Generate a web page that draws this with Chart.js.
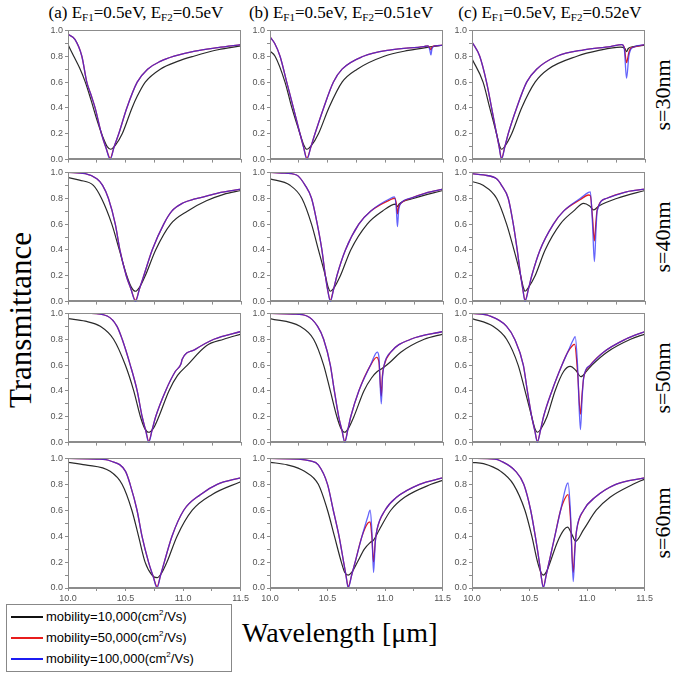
<!DOCTYPE html>
<html><head><meta charset="utf-8">
<script src="https://cdn.jsdelivr.net/npm/chart.js@4.4.1/dist/chart.umd.min.js"></script>
<style>
body{margin:0;width:682px;height:678px;background:#fff;position:relative;overflow:hidden;font-family:'Liberation Serif','Times New Roman',serif;color:#000;}
canvas{position:absolute;}
.title{position:absolute;top:3px;font-size:17px;white-space:nowrap;transform:translateX(-50%);}
.title sub{font-size:11px;vertical-align:-3px;line-height:0;}
.rot{position:absolute;white-space:nowrap;transform:translate(-50%,-50%) rotate(-90deg);}
#legend{position:absolute;left:6px;top:604px;width:226px;height:68px;border:1px solid #888;box-sizing:border-box;font-family:'Liberation Sans',Arial,sans-serif;font-size:13px;}
#legend .row{position:absolute;left:4px;height:20px;line-height:20px;white-space:nowrap;}
#legend .sw{display:inline-block;width:32px;height:2px;vertical-align:middle;margin-right:3px;position:relative;top:-1px;}
#legend sup{font-size:8px;vertical-align:6px;line-height:0;}
#xlab{position:absolute;left:242px;top:617px;font-size:28px;white-space:nowrap;}
</style>
</head><body>
<div class="title" style="left:136px">(a) E<sub>F1</sub>=0.5eV, E<sub>F2</sub>=0.5eV</div>
<div class="title" style="left:341px">(b) E<sub>F1</sub>=0.5eV, E<sub>F2</sub>=0.51eV</div>
<div class="title" style="left:550px">(c) E<sub>F1</sub>=0.5eV, E<sub>F2</sub>=0.52eV</div>
<div class="rot" style="left:21px;top:320px;font-size:31px;">Transmittance</div>
<div class="rot" style="left:663px;top:95px;font-size:22px;">s=30nm</div>
<div class="rot" style="left:663px;top:237px;font-size:22px;">s=40nm</div>
<div class="rot" style="left:663px;top:378px;font-size:22px;">s=50nm</div>
<div class="rot" style="left:663px;top:523px;font-size:22px;">s=60nm</div>
<div id="xlab">Wavelength [μm]</div>
<div id="legend">
 <div class="row" style="top:2px"><span class="sw" style="background:#111"></span>mobility=10,000(cm<sup>2</sup>/Vs)</div>
 <div class="row" style="top:23px"><span class="sw" style="background:#e81c1c"></span>mobility=50,000(cm<sup>2</sup>/Vs)</div>
 <div class="row" style="top:44px"><span class="sw" style="background:#1c1cf2"></span>mobility=100,000(cm<sup>2</sup>/Vs)</div>
</div>
<script>
// ---- data: [wavelength (um), transmittance] ----
const xTicks = [10.0, 10.5, 11.0, 11.5];
const yTicks = [0.0, 0.2, 0.4, 0.6, 0.8, 1.0];
const rowLabels = ['s=30nm','s=40nm','s=50nm','s=60nm'];

// (a) EF2=0.5eV
const A1_black=[[10.0,0.89],[10.05,0.8],[10.1,0.71],[10.15,0.6],[10.2,0.46],[10.25,0.31],[10.3,0.18],[10.34,0.1],[10.37,0.08],[10.41,0.11],[10.47,0.2],[10.555,0.4],[10.6,0.49],[10.67,0.6],[10.8,0.7],[10.95,0.76],[11.09,0.8],[11.3,0.85],[11.5,0.88]];
const A1_red=[[10.0,0.97],[10.06,0.93],[10.12,0.8],[10.163,0.6],[10.2,0.5],[10.235,0.4],[10.29,0.2],[10.33,0.09],[10.366,0.01],[10.4,0.1],[10.44,0.2],[10.51,0.4],[10.6,0.6],[10.69,0.7],[10.8,0.76],[10.92,0.8],[11.1,0.84],[11.3,0.867],[11.5,0.89]];
const A1_blue=[[10.0,0.97],[10.06,0.93],[10.12,0.8],[10.163,0.6],[10.2,0.5],[10.235,0.4],[10.29,0.2],[10.33,0.09],[10.366,0.0],[10.4,0.1],[10.44,0.2],[10.51,0.4],[10.6,0.6],[10.69,0.7],[10.8,0.76],[10.92,0.8],[11.1,0.84],[11.3,0.867],[11.5,0.89]];
const A2_black=[[10.0,0.96],[10.1,0.94],[10.22,0.9],[10.29,0.8],[10.38,0.6],[10.445,0.4],[10.51,0.2],[10.55,0.11],[10.585,0.08],[10.62,0.11],[10.67,0.2],[10.76,0.4],[10.89,0.6],[11.035,0.7],[11.2,0.78],[11.35,0.83],[11.5,0.86]];
const A2_red=[[10.0,1.0],[10.15,0.99],[10.25,0.95],[10.3,0.9],[10.35,0.8],[10.41,0.6],[10.45,0.4],[10.505,0.2],[10.545,0.1],[10.585,0.01],[10.62,0.1],[10.657,0.2],[10.73,0.4],[10.83,0.6],[10.9,0.7],[11.0,0.765],[11.1,0.795],[11.15,0.805],[11.3,0.84],[11.5,0.87]];
const A2_blue=[[10.0,1.0],[10.15,0.99],[10.25,0.95],[10.3,0.9],[10.35,0.8],[10.41,0.6],[10.45,0.4],[10.505,0.2],[10.545,0.1],[10.585,0.0],[10.62,0.1],[10.657,0.2],[10.73,0.4],[10.83,0.6],[10.9,0.7],[11.0,0.765],[11.1,0.795],[11.15,0.805],[11.3,0.84],[11.5,0.87]];
const A3_black=[[10.0,0.96],[10.15,0.94],[10.28,0.9],[10.395,0.8],[10.497,0.6],[10.57,0.4],[10.628,0.2],[10.665,0.11],[10.7,0.08],[10.74,0.11],[10.787,0.2],[10.875,0.4],[10.95,0.52],[11.035,0.6],[11.2,0.75],[11.35,0.8],[11.5,0.84]];
const A3_red=[[10.0,1.0],[10.2,1.0],[10.34,0.98],[10.425,0.9],[10.47,0.8],[10.54,0.6],[10.6,0.4],[10.643,0.2],[10.675,0.09],[10.7,0.01],[10.73,0.1],[10.76,0.2],[10.846,0.4],[10.93,0.55],[10.98,0.61],[10.99,0.645],[11.1,0.72],[11.265,0.8],[11.5,0.86]];
const A3_blue=[[10.0,1.0],[10.2,1.0],[10.34,0.98],[10.425,0.9],[10.47,0.8],[10.54,0.6],[10.6,0.4],[10.643,0.2],[10.675,0.09],[10.7,0.0],[10.73,0.1],[10.76,0.2],[10.846,0.4],[10.93,0.55],[10.98,0.61],[10.99,0.645],[11.1,0.72],[11.265,0.8],[11.5,0.86]];
const A4_black=[[10.0,0.97],[10.15,0.95],[10.366,0.9],[10.47,0.8],[10.555,0.6],[10.613,0.4],[10.67,0.2],[10.73,0.1],[10.774,0.08],[10.81,0.11],[10.86,0.2],[10.948,0.4],[11.08,0.6],[11.25,0.72],[11.5,0.82]];
const A4_red=[[10.0,1.0],[10.25,0.995],[10.37,0.98],[10.5,0.9],[10.54,0.8],[10.6,0.6],[10.643,0.4],[10.7,0.2],[10.74,0.09],[10.774,0.01],[10.805,0.1],[10.837,0.2],[10.904,0.4],[11.006,0.6],[11.15,0.72],[11.297,0.8],[11.5,0.85]];
const A4_blue=[[10.0,1.0],[10.25,0.995],[10.37,0.98],[10.5,0.9],[10.54,0.8],[10.6,0.6],[10.643,0.4],[10.7,0.2],[10.74,0.09],[10.774,0.0],[10.805,0.1],[10.837,0.2],[10.904,0.4],[11.006,0.6],[11.15,0.72],[11.297,0.8],[11.5,0.85]];

// (b) EF2=0.51eV
const B1_black=[[10.0,0.84],[10.044,0.8],[10.13,0.6],[10.19,0.4],[10.26,0.2],[10.295,0.11],[10.32,0.08],[10.36,0.11],[10.42,0.2],[10.51,0.4],[10.625,0.6],[10.756,0.7],[10.99,0.8],[11.2,0.845],[11.37,0.87],[11.5,0.885]];
const B1_red=[[10.0,0.95],[10.04,0.9],[10.087,0.8],[10.145,0.6],[10.203,0.4],[10.26,0.2],[10.29,0.1],[10.32,0.01],[10.355,0.1],[10.39,0.2],[10.465,0.4],[10.55,0.6],[10.625,0.7],[10.81,0.8],[11.05,0.85],[11.335,0.875],[11.37,0.88],[11.385,0.865],[11.395,0.85],[11.405,0.87],[11.43,0.88],[11.5,0.885]];
const B1_blue=[[10.0,0.95],[10.04,0.9],[10.087,0.8],[10.145,0.6],[10.203,0.4],[10.26,0.2],[10.29,0.1],[10.32,0.0],[10.355,0.1],[10.39,0.2],[10.465,0.4],[10.55,0.6],[10.625,0.7],[10.81,0.8],[11.05,0.85],[11.335,0.875],[11.37,0.88],[11.385,0.85],[11.395,0.81],[11.405,0.86],[11.43,0.88],[11.5,0.885]];
const B2_black=[[10.0,0.95],[10.174,0.9],[10.276,0.8],[10.36,0.6],[10.42,0.4],[10.48,0.2],[10.505,0.11],[10.523,0.08],[10.55,0.1],[10.61,0.2],[10.7,0.4],[10.843,0.6],[10.974,0.7],[11.09,0.755],[11.105,0.735],[11.12,0.755],[11.25,0.8],[11.5,0.86]];
const B2_red=[[10.0,1.0],[10.1,0.995],[10.23,0.98],[10.305,0.9],[10.36,0.8],[10.41,0.6],[10.45,0.4],[10.48,0.2],[10.5,0.09],[10.523,0.01],[10.55,0.09],[10.58,0.2],[10.654,0.4],[10.77,0.6],[10.872,0.7],[11.047,0.79],[11.08,0.8],[11.095,0.76],[11.105,0.68],[11.115,0.73],[11.134,0.76],[11.22,0.8],[11.35,0.84],[11.5,0.87]];
const B2_blue=[[10.0,1.0],[10.1,0.995],[10.23,0.98],[10.305,0.9],[10.36,0.8],[10.41,0.6],[10.45,0.4],[10.48,0.2],[10.5,0.09],[10.523,0.0],[10.55,0.09],[10.58,0.2],[10.654,0.4],[10.77,0.6],[10.872,0.7],[11.047,0.8],[11.08,0.81],[11.095,0.72],[11.105,0.58],[11.115,0.7],[11.134,0.76],[11.22,0.8],[11.35,0.84],[11.5,0.87]];
const B3_black=[[10.0,0.96],[10.26,0.9],[10.378,0.8],[10.465,0.6],[10.523,0.4],[10.58,0.2],[10.615,0.11],[10.648,0.08],[10.68,0.11],[10.727,0.2],[10.814,0.4],[10.88,0.5],[10.93,0.55],[10.965,0.57],[10.99,0.585],[11.05,0.63],[11.134,0.7],[11.337,0.8],[11.5,0.84]];
const B3_red=[[10.0,1.0],[10.2,0.995],[10.32,0.98],[10.413,0.9],[10.465,0.8],[10.523,0.6],[10.558,0.4],[10.596,0.2],[10.625,0.09],[10.648,0.01],[10.675,0.1],[10.7,0.2],[10.77,0.4],[10.872,0.6],[10.925,0.66],[10.945,0.62],[10.955,0.48],[10.965,0.36],[10.975,0.52],[10.99,0.6],[11.047,0.7],[11.22,0.8],[11.5,0.86]];
const B3_blue=[[10.0,1.0],[10.2,0.995],[10.32,0.98],[10.413,0.9],[10.465,0.8],[10.523,0.6],[10.558,0.4],[10.596,0.2],[10.625,0.09],[10.648,0.0],[10.675,0.1],[10.7,0.2],[10.77,0.4],[10.872,0.6],[10.93,0.7],[10.945,0.66],[10.955,0.45],[10.965,0.3],[10.975,0.5],[10.99,0.6],[11.047,0.7],[11.22,0.8],[11.5,0.86]];
const B4_black=[[10.0,0.97],[10.15,0.95],[10.3,0.9],[10.42,0.8],[10.5,0.6],[10.56,0.4],[10.62,0.2],[10.65,0.12],[10.68,0.1],[10.71,0.12],[10.76,0.2],[10.82,0.3],[10.87,0.35],[10.9,0.37],[10.95,0.45],[11.05,0.6],[11.17,0.7],[11.4,0.8],[11.5,0.83]];
const B4_red=[[10.0,1.0],[10.25,0.995],[10.35,0.98],[10.42,0.95],[10.5,0.8],[10.55,0.6],[10.6,0.4],[10.64,0.2],[10.66,0.1],[10.68,0.01],[10.71,0.1],[10.74,0.2],[10.8,0.4],[10.85,0.5],[10.87,0.51],[10.885,0.4],[10.9,0.2],[10.915,0.36],[10.93,0.45],[11.0,0.6],[11.1,0.7],[11.3,0.8],[11.5,0.85]];
const B4_blue=[[10.0,1.0],[10.25,0.995],[10.35,0.98],[10.42,0.95],[10.5,0.8],[10.55,0.6],[10.6,0.4],[10.64,0.2],[10.66,0.1],[10.68,0.0],[10.71,0.1],[10.74,0.2],[10.8,0.4],[10.85,0.55],[10.87,0.6],[10.885,0.45],[10.9,0.12],[10.915,0.35],[10.93,0.45],[11.0,0.6],[11.1,0.7],[11.3,0.8],[11.5,0.85]];

// (c) EF2=0.52eV
const C1_black=[[10.0,0.78],[10.096,0.6],[10.154,0.4],[10.213,0.2],[10.238,0.11],[10.256,0.08],[10.29,0.11],[10.344,0.2],[10.43,0.4],[10.547,0.6],[10.66,0.7],[10.91,0.8],[11.1,0.845],[11.288,0.87],[11.325,0.86],[11.34,0.835],[11.355,0.86],[11.4,0.875],[11.5,0.885]];
const C1_red=[[10.0,0.91],[10.067,0.8],[10.126,0.6],[10.17,0.4],[10.213,0.2],[10.235,0.1],[10.256,0.01],[10.285,0.1],[10.314,0.2],[10.387,0.4],[10.474,0.6],[10.56,0.7],[10.736,0.8],[10.97,0.85],[11.2,0.875],[11.3,0.89],[11.32,0.87],[11.34,0.75],[11.36,0.83],[11.375,0.86],[11.4,0.87],[11.5,0.89]];
const C1_blue=[[10.0,0.91],[10.067,0.8],[10.126,0.6],[10.17,0.4],[10.213,0.2],[10.235,0.1],[10.256,0.0],[10.285,0.1],[10.314,0.2],[10.387,0.4],[10.474,0.6],[10.56,0.7],[10.736,0.8],[10.97,0.85],[11.2,0.875],[11.3,0.89],[11.32,0.86],[11.34,0.63],[11.36,0.8],[11.375,0.85],[11.4,0.87],[11.5,0.89]];
const C2_black=[[10.0,0.93],[10.096,0.9],[10.213,0.8],[10.3,0.6],[10.364,0.4],[10.422,0.2],[10.445,0.11],[10.46,0.08],[10.49,0.11],[10.547,0.2],[10.634,0.4],[10.765,0.6],[10.88,0.7],[10.968,0.76],[11.02,0.74],[11.055,0.71],[11.1,0.74],[11.26,0.8],[11.5,0.86]];
const C2_red=[[10.0,0.99],[10.1,0.98],[10.213,0.95],[10.256,0.9],[10.314,0.8],[10.358,0.6],[10.392,0.4],[10.422,0.2],[10.44,0.1],[10.46,0.01],[10.49,0.1],[10.518,0.2],[10.59,0.4],[10.706,0.6],[10.794,0.7],[10.94,0.79],[11.01,0.825],[11.026,0.82],[11.045,0.65],[11.061,0.47],[11.075,0.62],[11.085,0.71],[11.17,0.8],[11.34,0.85],[11.5,0.87]];
const C2_blue=[[10.0,0.99],[10.1,0.98],[10.213,0.95],[10.256,0.9],[10.314,0.8],[10.358,0.6],[10.392,0.4],[10.422,0.2],[10.44,0.1],[10.46,0.0],[10.49,0.1],[10.518,0.2],[10.59,0.4],[10.706,0.6],[10.794,0.7],[10.94,0.8],[11.01,0.845],[11.026,0.85],[11.045,0.6],[11.061,0.31],[11.075,0.55],[11.085,0.7],[11.17,0.8],[11.34,0.85],[11.5,0.87]];
const C3_black=[[10.0,0.96],[10.183,0.9],[10.3,0.8],[10.4,0.6],[10.46,0.4],[10.518,0.2],[10.545,0.11],[10.567,0.08],[10.6,0.11],[10.65,0.2],[10.72,0.4],[10.794,0.55],[10.852,0.59],[10.9,0.56],[10.945,0.51],[10.99,0.55],[11.04,0.6],[11.17,0.7],[11.375,0.8],[11.5,0.84]];
const C3_red=[[10.0,1.0],[10.154,0.98],[10.3,0.9],[10.37,0.8],[10.445,0.6],[10.48,0.4],[10.518,0.2],[10.545,0.09],[10.567,0.01],[10.595,0.1],[10.62,0.2],[10.693,0.4],[10.78,0.6],[10.83,0.7],[10.87,0.75],[10.89,0.76],[10.915,0.55],[10.94,0.22],[10.955,0.38],[10.968,0.5],[11.026,0.6],[11.14,0.7],[11.33,0.8],[11.5,0.86]];
const C3_blue=[[10.0,1.0],[10.154,0.98],[10.3,0.9],[10.37,0.8],[10.445,0.6],[10.48,0.4],[10.518,0.2],[10.545,0.09],[10.567,0.0],[10.595,0.1],[10.62,0.2],[10.693,0.4],[10.78,0.6],[10.83,0.7],[10.88,0.8],[10.895,0.82],[10.915,0.6],[10.94,0.1],[10.955,0.35],[10.968,0.5],[11.026,0.6],[11.14,0.7],[11.33,0.8],[11.5,0.86]];
const C4_black=[[10.0,0.97],[10.1,0.96],[10.25,0.9],[10.36,0.8],[10.46,0.6],[10.52,0.4],[10.57,0.2],[10.6,0.12],[10.62,0.1],[10.65,0.13],[10.68,0.2],[10.74,0.35],[10.8,0.45],[10.83,0.47],[10.87,0.41],[10.9,0.36],[10.97,0.45],[11.08,0.6],[11.2,0.7],[11.4,0.8],[11.5,0.84]];
const C4_red=[[10.0,1.0],[10.2,0.995],[10.25,0.98],[10.38,0.9],[10.45,0.8],[10.51,0.6],[10.55,0.4],[10.585,0.2],[10.6,0.1],[10.62,0.01],[10.645,0.1],[10.67,0.2],[10.72,0.4],[10.77,0.6],[10.82,0.71],[10.835,0.72],[10.855,0.55],[10.88,0.12],[10.895,0.32],[10.91,0.45],[10.97,0.6],[11.07,0.7],[11.25,0.8],[11.5,0.85]];
const C4_blue=[[10.0,1.0],[10.2,0.995],[10.25,0.98],[10.38,0.9],[10.45,0.8],[10.51,0.6],[10.55,0.4],[10.585,0.2],[10.6,0.1],[10.62,0.0],[10.645,0.1],[10.67,0.2],[10.72,0.4],[10.77,0.6],[10.82,0.79],[10.835,0.81],[10.855,0.6],[10.88,0.05],[10.895,0.3],[10.91,0.45],[10.97,0.6],[11.07,0.7],[11.25,0.8],[11.5,0.85]];

// ---- layout ----
const colLeft = [68, 270, 472];
const rowTop = [29, 171, 312, 457];
const PW = 173, PH = 131, YW = 24, PADT = 6, PADR = 10, PADB = 2;

const panels = [
  [A1_black,A1_red,A1_blue],[B1_black,B1_red,B1_blue],[C1_black,C1_red,C1_blue],
  [A2_black,A2_red,A2_blue],[B2_black,B2_red,B2_blue],[C2_black,C2_red,C2_blue],
  [A3_black,A3_red,A3_blue],[B3_black,B3_red,B3_blue],[C3_black,C3_red,C3_blue],
  [A4_black,A4_red,A4_blue],[B4_black,B4_red,B4_blue],[C4_black,C4_red,C4_blue]
];

const frame = {id:'frame', afterDraw(c){
  const a=c.chartArea, g=c.ctx; g.save(); g.strokeStyle='#8c8c8c'; g.lineWidth=1;
  g.strokeRect(Math.round(a.left)+0.5, Math.round(a.top)+0.5, Math.round(a.right-a.left)-1, Math.round(a.bottom-a.top)-1);
  g.restore();
}};

const pts = arr => arr.map(p => ({x:p[0], y:p[1]}));
const tickFont = {family:"'Liberation Sans', Arial, sans-serif", size:9};

panels.forEach((s, i) => {
  const col = i % 3, row = Math.floor(i / 3), bottom = row === 3;
  const xh = bottom ? 17 : 5;
  const cv = document.createElement('canvas');
  const w = YW + PW + PADR, h = PADT + PH + xh + PADB;
  cv.width = w; cv.height = h;
  cv.style.left = (colLeft[col] - YW) + 'px';
  cv.style.top = (rowTop[row] - PADT) + 'px';
  cv.style.width = w + 'px'; cv.style.height = h + 'px';
  document.body.appendChild(cv);
  new Chart(cv.getContext('2d'), {
    type: 'line',
    data: {datasets: [
      {label:'mobility=10,000', data: pts(s[0]), borderColor:'#2a2a2a', order:2, borderWidth:1.2},
      {label:'mobility=50,000', data: pts(s[1]), borderColor:'#e41e1e', order:1, borderWidth:1.3},
      {label:'mobility=100,000', data: pts(s[2]), borderColor:'rgba(40,40,250,0.72)', order:0, borderWidth:1.3}
    ]},
    options: {
      responsive:false, animation:false, events:[],
      layout:{padding:{left:0, right:PADR, top:PADT, bottom:PADB}},
      elements:{point:{radius:0}, line:{cubicInterpolationMode:'monotone', fill:false}},
      plugins:{legend:{display:false}, tooltip:{enabled:false}},
      scales:{
        x:{type:'linear', min:10, max:11.5,
           afterBuildTicks: sc => { sc.ticks = [10,10.25,10.5,10.75,11,11.25,11.5].map(v=>({value:v})); },
           afterFit: sc => { sc.height = xh; },
           ticks:{display:true, font:tickFont, color:'#555', padding:2, maxRotation:0, autoSkip:false,
             callback: v => (bottom && xTicks.some(t=>Math.abs(t-v)<1e-6)) ? v.toFixed(1) : ''},
           grid:{drawOnChartArea:false, drawTicks:true, tickLength:3, color:'#8c8c8c'},
           border:{color:'#8c8c8c'}},
        y:{type:'linear', min:0, max:1,
           afterBuildTicks: sc => { sc.ticks = [0,0.1,0.2,0.3,0.4,0.5,0.6,0.7,0.8,0.9,1.0].map(v=>({value:v})); },
           afterFit: sc => { sc.width = YW; },
           ticks:{font:tickFont, color:'#555', padding:2, autoSkip:false,
             callback: v => yTicks.some(t=>Math.abs(t-v)<1e-6) ? v.toFixed(1) : ''},
           grid:{drawOnChartArea:false, drawTicks:true, tickLength:3, color:'#8c8c8c'},
           border:{color:'#8c8c8c'}}
      }
    },
    plugins:[frame]
  });
});
</script>
</body></html>
